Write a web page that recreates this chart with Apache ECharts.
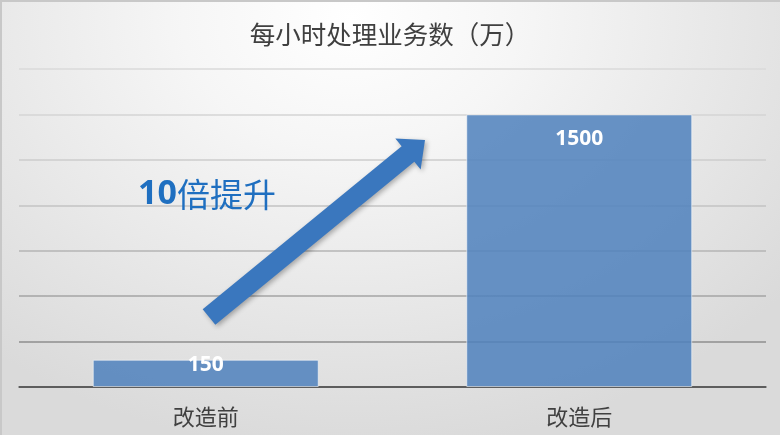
<!DOCTYPE html>
<html>
<head>
<meta charset="utf-8">
<script src="https://cdn.jsdelivr.net/npm/echarts@6/dist/echarts.min.js"></script>
<style>
    html, body { margin: 0; padding: 0; }
    #chart {
        width: 780px;
        height: 435px;
        background: radial-gradient(ellipse 72% 100% at 45% 4%, #ffffff 0%, #f6f6f6 30%, #e8e8e8 65%, #dadada 100%);
        box-shadow: inset 2px 2px 0 #c8c8c8;
    }
</style>
</head>
<body>
<div id="chart"></div>
<script>
var categories = ['改造前', '改造后'];
var barValues = [150, 1500];
var yTicks = [0, 250, 500, 750, 1000, 1250, 1500, 1750];
var titleText = '每小时处理业务数（万）';
var noteNum = '10';
var noteText = '倍提升';

var cjk = '"Noto Sans CJK SC", "Noto Sans", sans-serif';
// 网格线从下往上逐渐变浅
var gridColors = ['#555555', '#8e8e8e', '#a4a4a4', '#b5b5b5', '#c3c3c3', '#cdcdcd', '#d5d5d5', '#dadada'];
// 数据标签位置微调
var labelTweaks = [
    { position: 'insideTop', distance: -5 },
    { position: 'insideTop', distance: 14 }
];

// 箭头（装饰）
var tailC = [209, 317], tip = [425, 140];
function arrowPoints(){
    var dx = tip[0] - tailC[0], dy = tip[1] - tailC[1];
    var len = Math.sqrt(dx * dx + dy * dy);
    var u = [dx / len, dy / len], n = [-u[1], u[0]];
    var head = 22, hw = 10, bw = 20;
    var b = [tip[0] - head * u[0], tip[1] - head * u[1]];
    function p(base, k){ return [base[0] + k * n[0], base[1] + k * n[1]]; }
    return [p(tailC, -hw), p(b, -hw), p(b, -bw), tip, p(b, bw), p(b, hw), p(tailC, hw)];
}

var chart = echarts.init(document.getElementById('chart'));
var option = {
    backgroundColor: 'transparent',
    title: {
        text: titleText,
        left: 'center',
        top: 17,
        textStyle: {
            fontFamily: cjk,
            fontSize: 25.5,
            fontWeight: 'normal',
            color: '#404040'
        }
    },
    grid: {
        left: 19,
        right: 14,
        top: 69,
        bottom: 48
    },
    xAxis: {
        type: 'category',
        data: categories,
        axisLine: { lineStyle: { color: '#555555', width: 1.5 } },
        axisTick: { show: false },
        axisLabel: {
            fontFamily: cjk,
            fontSize: 22,
            color: '#404040',
            margin: 19
        }
    },
    yAxis: {
        type: 'value',
        min: yTicks[0],
        max: yTicks[yTicks.length - 1],
        interval: yTicks[1] - yTicks[0],
        axisLabel: { show: false },
        axisLine: { show: false },
        axisTick: { show: false },
        splitLine: { lineStyle: { color: gridColors, width: 1.5 } }
    },
    series: [{
        type: 'bar',
        data: barValues.map(function(v, i){
            return { value: v, label: labelTweaks[i] };
        }),
        barWidth: '60.5%',
        itemStyle: {
            color: 'rgba(79,129,189,0.86)',
            borderColor: 'rgba(255,255,255,0.55)',
            borderWidth: 1
        },
        label: {
            show: true,
            color: '#ffffff',
            fontFamily: '"Noto Sans", sans-serif',
            fontWeight: 'bold',
            fontSize: 21
        }
    }],
    graphic: [
        {
            type: 'polygon',
            shape: { points: arrowPoints() },
            style: {
                fill: '#3a77be',
                shadowBlur: 5,
                shadowOffsetX: 2,
                shadowOffsetY: 2,
                shadowColor: 'rgba(0,0,0,0.3)'
            },
            z: 10
        },
        {
            type: 'text',
            left: 138,
            top: 177,
            style: {
                text: '{a|' + noteNum + '}{b|' + noteText + '}',
                rich: {
                    a: { fontFamily: '"Noto Sans", sans-serif', fontWeight: 'bold', fontSize: 34, fill: '#1f6fc0' },
                    b: { fontFamily: cjk, fontWeight: 'normal', fontSize: 33, fill: '#1f6fc0' }
                }
            },
            z: 10
        }
    ]
};
chart.setOption(option);

window.onresize = chart.resize;
</script>
</body>
</html>
